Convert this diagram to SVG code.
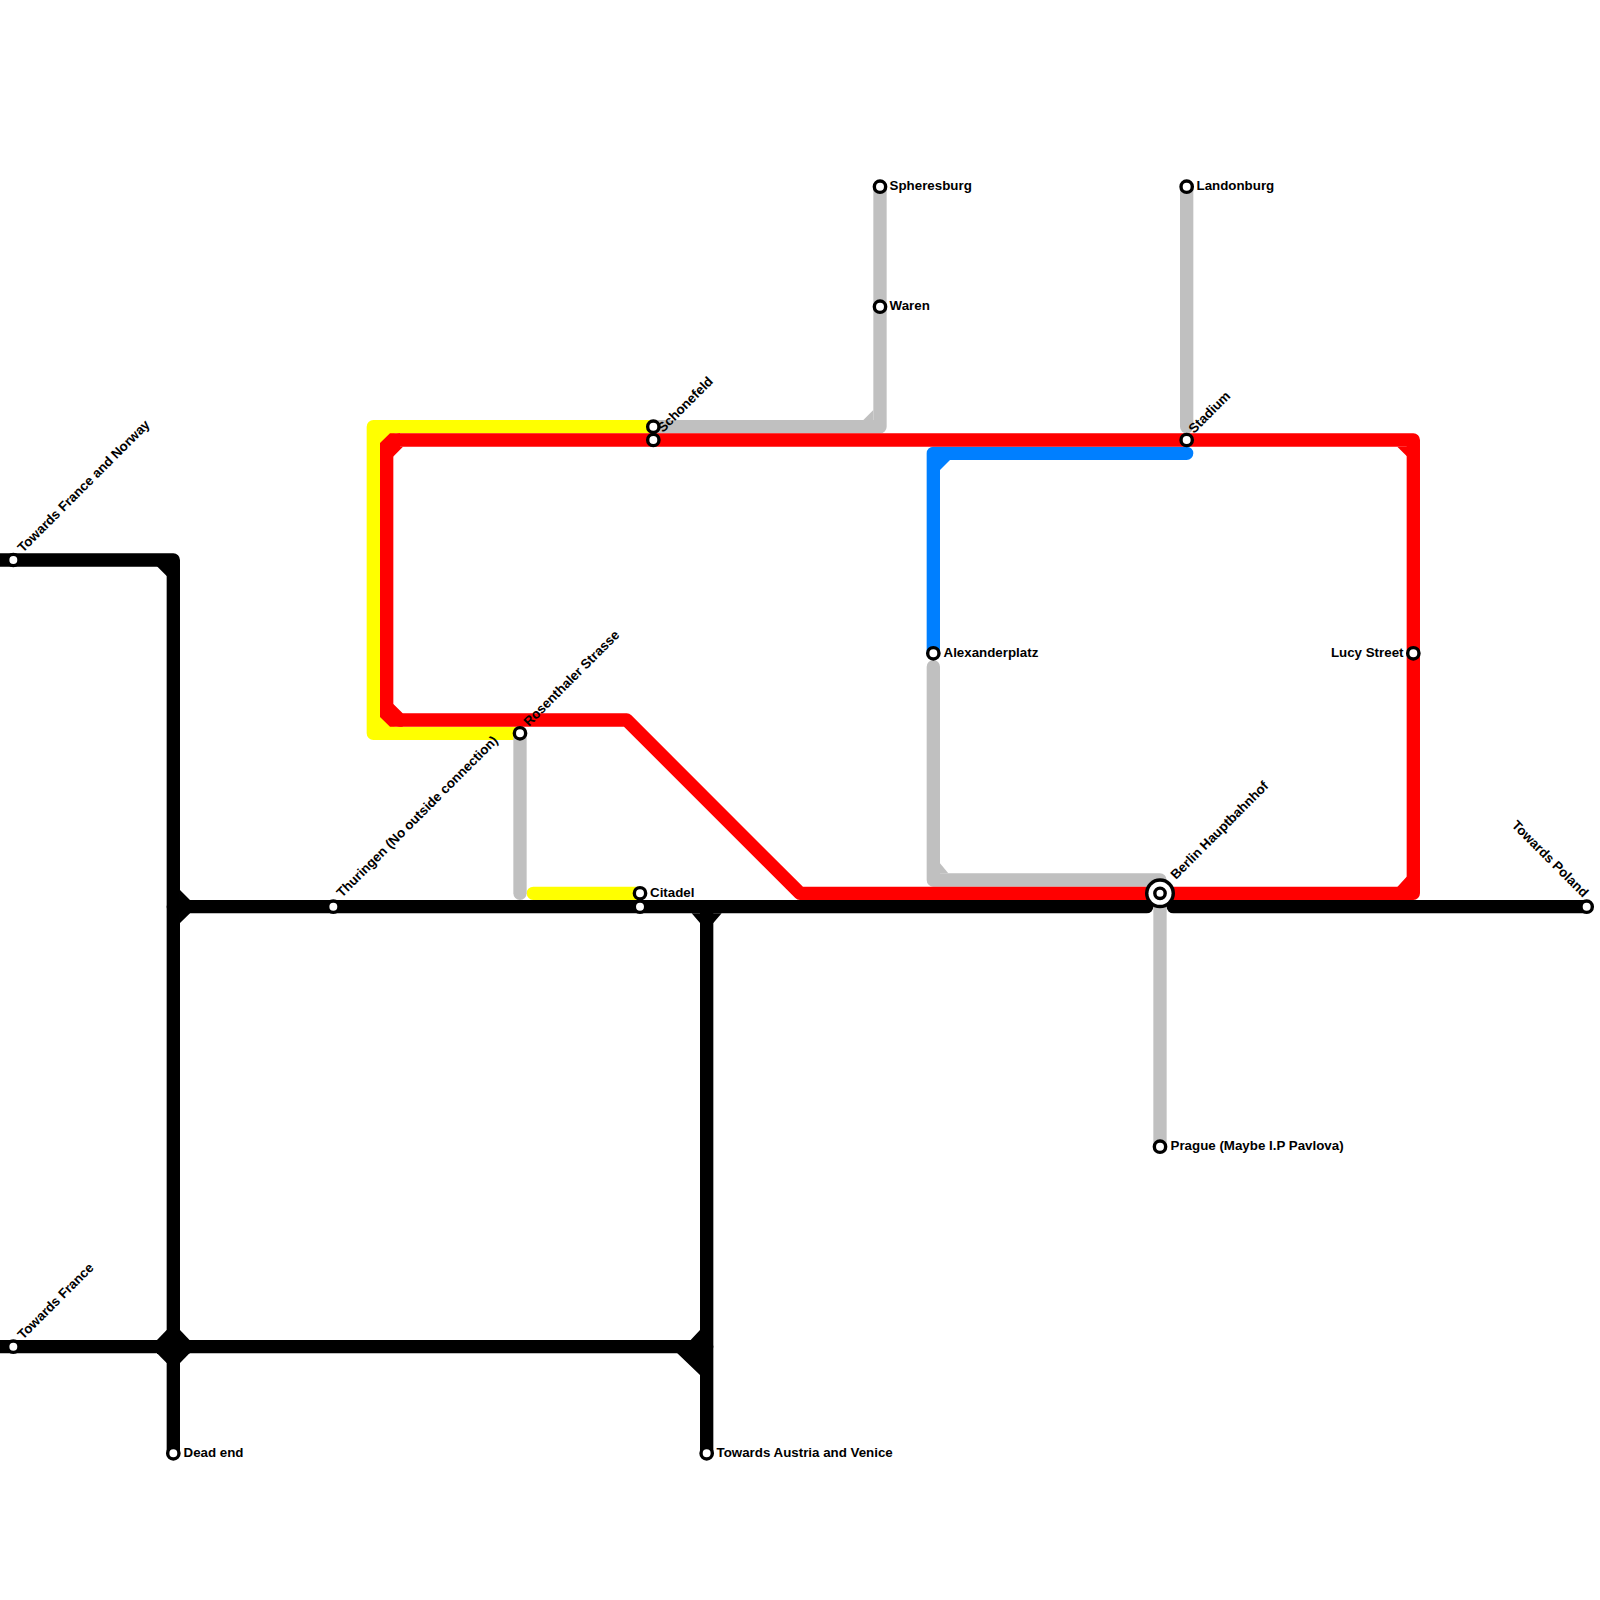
<svg xmlns="http://www.w3.org/2000/svg" width="1600" height="1600" viewBox="0 0 1600 1600">
<style>
.l{fill:none;stroke-width:13.33;stroke-linecap:round;stroke-linejoin:round}
.y{stroke:#ffff00}.r{stroke:#ff0000}.g{stroke:#c0c0c0}.b{stroke:#007fff}.k{stroke:#000}
.fy{fill:#ffff00}.fr{fill:#ff0000}.fg{fill:#c0c0c0}.fb{fill:#007fff}.fk{fill:#000}
.s{fill:#fff;stroke:#000;stroke-width:3.4}
.t{font-family:"Liberation Sans",Arial,sans-serif;font-weight:700;font-size:13.33px;fill:#000}
</style>
<rect width="1600" height="1600" fill="#fff"/>
<g id="connectors">
<path class="l y" d="M653.33,426.67H373.33V733.33H520"/>
<path class="fy" d="M380,433L395,433L380,448ZM380,727L380,712L395,727Z"/>
<path class="l y" d="M533.33,893.33H640"/>
<path class="l g" d="M653.33,426.67H880V186.67"/>
<path class="fg" d="M863.3,420L873.3,410V425H863.3Z"/>
<path class="l g" d="M520,733.33V893.33"/>
<path class="l g" d="M933.33,666.67V880H1160V1146.67"/>
<path class="fg" d="M940,863.3L948.3,873.3H935V863.3Z"/>
<path class="l g" d="M1186.67,186.67V426.67"/>
<path class="l b" d="M933.33,653.33V453.33H1186.67"/>
<path class="fb" d="M940,470L950,460H935V470Z"/>
<path class="l r" d="M400,440H1413.33V893.33H800L626.67,720H400"/>
<path class="l r" d="M386.67,456V704"/>
<path class="fr" d="M380,443L390,433.33H400V446.67H403L393.33,456.5H386V460H380ZM380,704H393.33L402.7,713.33V726.67H390L380,717Z"/>
<path class="fr" d="M1397.3,446.67H1410V456H1406.67ZM1406.67,876.67H1410V887H1397.3Z"/>
<path class="l k" d="M0,560H173.33V1453.33"/>
<path class="fk" d="M156.7,566H170V576H166.67Z"/>
<path class="l k" d="M173.33,906.67H1146.67"/>
<path class="l k" d="M1173.33,906.67H1586.67"/>
<path class="l k" d="M0,1346.67H706.67"/>
<path class="l k" d="M706.67,906.67V1453.33"/>
<path class="fk" d="M180,890L190,900V913.33L180,923ZM691.67,913.33H721.67L713.33,923H700Z"/>
<path class="fk" d="M166.67,1330H180L189.5,1340V1353.33L180,1363H166.67L157,1353.33V1340Z"/>
<path class="fk" d="M700,1330L690.67,1340H677.3V1353.33L700,1375H710V1330Z"/>
</g>
<g id="n-spheresburg"><circle class="s" cx="880" cy="186.67" r="5.67"/><text class="t" x="889.6" y="190">Spheresburg</text></g>
<g id="n-waren"><circle class="s" cx="880" cy="306.67" r="5.67"/><text class="t" x="889.6" y="310">Waren</text></g>
<g id="n-landonburg"><circle class="s" cx="1186.67" cy="186.67" r="5.67"/><text class="t" x="1196.5" y="190">Landonburg</text></g>
<g id="n-stadium"><circle class="s" cx="1186.67" cy="440" r="5.67"/><text class="t" transform="translate(1194,434) rotate(-45)">Stadium</text></g>
<g id="n-schonefeld"><circle class="s" cx="653.33" cy="426.67" r="5.67"/><circle class="s" cx="653.33" cy="440" r="5.67"/><text class="t" transform="translate(663,433) rotate(-45)">Schonefeld</text></g>
<g id="n-alexanderplatz"><circle class="s" cx="933.33" cy="653.33" r="5.67"/><text class="t" x="943.5" y="657">Alexanderplatz</text></g>
<g id="n-lucy"><circle class="s" cx="1413.33" cy="653.33" r="5.67"/><text class="t" x="1403.5" y="657" text-anchor="end">Lucy Street</text></g>
<g id="n-rosenthaler"><circle class="s" cx="520" cy="733.33" r="5.67"/><text class="t" transform="translate(529,727) rotate(-45)">Rosenthaler Strasse</text></g>
<g id="n-citadel"><circle class="s" cx="640" cy="893.33" r="5.67"/><circle class="s" cx="640" cy="906.67" r="5.67"/><text class="t" x="650" y="897">Citadel</text></g>
<g id="n-thuringen"><circle class="s" cx="333.33" cy="906.67" r="5.67"/><text class="t" transform="translate(342,898) rotate(-45)">Thuringen (No outside connection)</text></g>
<g id="n-berlin"><circle cx="1160" cy="893.33" r="15" fill="#000"/><circle cx="1160" cy="893.33" r="11.5" fill="#fff"/><circle class="s" cx="1160" cy="893.33" r="5.2"/><text class="t" transform="translate(1176,880) rotate(-45)">Berlin Hauptbahnhof</text></g>
<g id="n-prague"><circle class="s" cx="1160" cy="1146.67" r="5.67"/><text class="t" x="1170.5" y="1150">Prague (Maybe I.P Pavlova)</text></g>
<g id="n-norway"><circle class="s" cx="13.33" cy="560" r="5.67"/><text class="t" transform="translate(23,553) rotate(-45)">Towards France and Norway</text></g>
<g id="n-france"><circle class="s" cx="13.33" cy="1346.67" r="5.67"/><text class="t" transform="translate(23,1340) rotate(-45)">Towards France</text></g>
<g id="n-deadend"><circle class="s" cx="173.33" cy="1453.33" r="5.67"/><text class="t" x="183.5" y="1457">Dead end</text></g>
<g id="n-austria"><circle class="s" cx="706.67" cy="1453.33" r="5.67"/><text class="t" x="716.5" y="1457">Towards Austria and Venice</text></g>
<g id="n-poland"><circle class="s" cx="1586.67" cy="906.67" r="5.67"/><text class="t" text-anchor="end" transform="translate(1583,898) rotate(45)">Towards Poland</text></g>
</svg>
